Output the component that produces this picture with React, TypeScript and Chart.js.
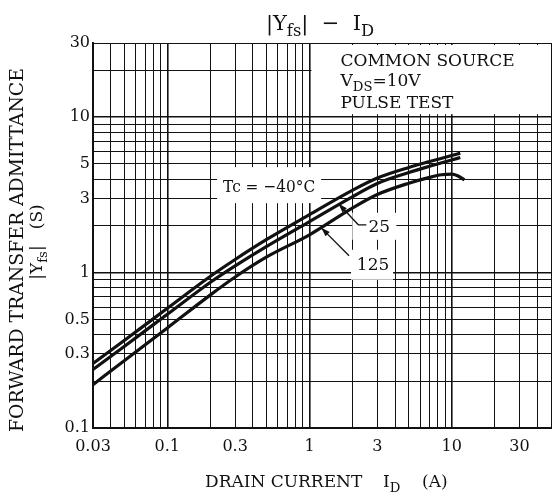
import React, { useEffect, useRef } from "react";
import { Chart, registerables } from "chart.js";

Chart.register(...registerables);

const FAMILY = '"DejaVu Serif", "Liberation Serif", serif';

// Axis grid / labels
const xGridValues = [0.03, 0.04, 0.05, 0.06, 0.07, 0.08, 0.09, 0.1, 0.2, 0.3, 0.4, 0.5, 0.6, 0.7, 0.8, 0.9, 1, 2, 3, 4, 5, 6, 7, 8, 9, 10, 20, 30, 40, 50];
const xLabelValues = [0.03, 0.1, 0.3, 1, 3, 10, 30];
const yGridValues = [0.1, 0.2, 0.3, 0.4, 0.5, 0.6, 0.7, 0.8, 0.9, 1, 2, 3, 4, 5, 6, 7, 8, 9, 10, 20, 30];
const yLabelValues = [0.1, 0.3, 0.5, 1, 3, 5, 10, 30];
const decadeValues = [0.1, 1, 10];

// Series: drain current I_D (A) vs |Yfs| (S)
const currentCold = [0.03, 0.05, 0.1, 0.2, 0.3, 0.5, 1, 2, 3, 5, 7, 10, 11.5];
const yfsMinus40 = [0.26, 0.367, 0.589, 0.944, 1.214, 1.633, 2.36, 3.38, 4.06, 4.75, 5.18, 5.66, 5.87];
const yfs25 = [0.238, 0.336, 0.539, 0.864, 1.105, 1.475, 2.13, 3.07, 3.74, 4.4, 4.83, 5.3, 5.5];
const currentHot = [0.03, 0.05, 0.1, 0.2, 0.3, 0.5, 1, 2, 3, 5, 7, 8.5, 10, 11, 12.3];
const yfs125 = [0.19, 0.272, 0.44, 0.716, 0.936, 1.26, 1.75, 2.6, 3.18, 3.76, 4.1, 4.26, 4.3, 4.2, 3.95];

// Annotation anchors in data space [I_D, |Yfs|]
const tcLabelAt = [0.52, 3.6];
const label25At = [3.1, 2.0];
const label125At = [2.8, 1.14];
const arrow25Tip = [1.6, 2.77];
const arrow125Tip = [1.21, 1.94];

const font = (size: number) => `${size}px ${FAMILY}`;

type Part = [string, boolean];

function drawRich(ctx: CanvasRenderingContext2D, parts: Part[], x: number, y: number, size: number, align: "left" | "center") {
  const subSize = size * 0.78;
  const widths = parts.map(([t, sub]) => {
    ctx.font = font(sub ? subSize : size);
    return ctx.measureText(t).width;
  });
  const total = widths.reduce((a, b) => a + b, 0);
  let cx = align === "center" ? x - total / 2 : x;
  ctx.textAlign = "left";
  ctx.textBaseline = "alphabetic";
  parts.forEach(([t, sub], i) => {
    ctx.font = font(sub ? subSize : size);
    ctx.fillText(t, cx, y + (sub ? size * 0.3 : 0));
    cx += widths[i];
  });
}

function drawArrow(ctx: CanvasRenderingContext2D, pts: number[][]) {
  ctx.beginPath();
  ctx.moveTo(pts[0][0], pts[0][1]);
  for (let i = 1; i < pts.length; i++) ctx.lineTo(pts[i][0], pts[i][1]);
  ctx.stroke();
  const [x1, y1] = pts[pts.length - 2];
  const [x2, y2] = pts[pts.length - 1];
  const a = Math.atan2(y2 - y1, x2 - x1);
  const L = 9;
  const W = 3;
  ctx.beginPath();
  ctx.moveTo(x2, y2);
  ctx.lineTo(x2 - L * Math.cos(a) + W * Math.sin(a), y2 - L * Math.sin(a) - W * Math.cos(a));
  ctx.lineTo(x2 - L * Math.cos(a) - W * Math.sin(a), y2 - L * Math.sin(a) + W * Math.cos(a));
  ctx.closePath();
  ctx.fill();
}

const near = (a: number, b: number) => Math.abs(a - b) / b < 1e-6;

const annotationPlugin = {
  id: "annotations",
  beforeDatasetsDraw(chart: any) {
    const { ctx, chartArea: ca } = chart;
    const xs = chart.scales.x;
    const ys = chart.scales.y;
    ctx.save();
    ctx.fillStyle = "#fff";
    // condition box
    const bx = xs.getPixelForValue(1) + 2;
    const by = ys.getPixelForValue(10) - 3;
    ctx.fillRect(bx, ca.top + 2, ca.right - bx, by - ca.top - 2);
    // Tc label box
    const tcx = xs.getPixelForValue(tcLabelAt[0]);
    const tcy = ys.getPixelForValue(tcLabelAt[1]);
    ctx.fillRect(tcx - 52, tcy - 19, 104, 36);
    // 25 label box
    const l25x = xs.getPixelForValue(label25At[0]);
    const l25y = ys.getPixelForValue(label25At[1]);
    ctx.fillRect(l25x - 27, l25y - 13, 44, 27);
    // 125 label box
    const l125x = xs.getPixelForValue(label125At[0]);
    const l125y = ys.getPixelForValue(label125At[1]);
    ctx.fillRect(l125x - 22, l125y - 14, 42, 30);

    ctx.fillStyle = "#111";
    // condition text
    const tx = xs.getPixelForValue(1) + 31;
    drawRich(ctx, [["COMMON SOURCE", false]], tx, ca.top + 23, 17, "left");
    drawRich(ctx, [["V", false], ["DS", true], ["=10V", false]], tx, ca.top + 43, 17, "left");
    drawRich(ctx, [["PULSE TEST", false]], tx, ca.top + 65, 17, "left");
    // Tc label
    ctx.font = font(17);
    ctx.textAlign = "center";
    ctx.textBaseline = "alphabetic";
    ctx.fillText("Tc = \u221240\u00b0C", tcx, tcy + 6, 92);
    ctx.fillText("25", l25x, l25y + 6);
    ctx.fillText("125", l125x, l125y + 6);
    ctx.restore();
  },
  afterDatasetsDraw(chart: any) {
    const { ctx } = chart;
    const xs = chart.scales.x;
    const ys = chart.scales.y;
    ctx.save();
    ctx.strokeStyle = "#111";
    ctx.fillStyle = "#111";
    ctx.lineWidth = 1.3;
    const l25x = xs.getPixelForValue(label25At[0]);
    const l25y = ys.getPixelForValue(label25At[1]);
    drawArrow(ctx, [
      [l25x - 13, l25y - 1],
      [l25x - 21, l25y - 1],
      [xs.getPixelForValue(arrow25Tip[0]), ys.getPixelForValue(arrow25Tip[1])],
    ]);
    const l125x = xs.getPixelForValue(label125At[0]);
    const l125y = ys.getPixelForValue(label125At[1]);
    drawArrow(ctx, [
      [l125x - 24, l125y - 8],
      [xs.getPixelForValue(arrow125Tip[0]), ys.getPixelForValue(arrow125Tip[1])],
    ]);
    ctx.restore();
  },
  afterDraw(chart: any) {
    const { ctx } = chart;
    ctx.save();
    ctx.fillStyle = "#111";
    // title
    drawRich(ctx, [["|Y", false], ["fs", true], ["|  \u2212  I", false], ["D", true]], 320, 30, 21, "center");
    // x title
    drawRich(ctx, [["DRAIN CURRENT", false]], 205, 487, 17, "left");
    drawRich(ctx, [["I", false], ["D", true]], 383, 487, 17, "left");
    drawRich(ctx, [["(A)", false]], 422, 487, 17, "left");
    // y title
    ctx.translate(23, 250);
    ctx.rotate(-Math.PI / 2);
    ctx.font = font(19);
    ctx.textAlign = "center";
    ctx.textBaseline = "alphabetic";
    ctx.fillText("FORWARD TRANSFER ADMITTANCE", 0, 0, 364);
    ctx.restore();
    ctx.save();
    ctx.fillStyle = "#111";
    ctx.translate(42, 242);
    ctx.rotate(-Math.PI / 2);
    drawRich(ctx, [["|Y", false], ["fs", true], ["|   (S)", false]], 0, 0, 17, "center");
    ctx.restore();
  },
};

export default function App() {
  const ref = useRef<HTMLCanvasElement | null>(null);
  useEffect(() => {
    const canvas = ref.current;
    if (!canvas) return;
    const toPts = (xs: number[], ys: number[]) => xs.map((x, i) => ({ x, y: ys[i] }));
    const lineStyle = {
      borderColor: "#111",
      borderWidth: 3.2,
      pointRadius: 0,
      fill: false,
      cubicInterpolationMode: "monotone" as const,
      tension: 0.4,
    };
    const chart = new Chart(canvas, {
      type: "line",
      data: {
        datasets: [
          { label: "Tc=-40°C", data: toPts(currentCold, yfsMinus40), ...lineStyle },
          { label: "25", data: toPts(currentCold, yfs25), ...lineStyle },
          { label: "125", data: toPts(currentHot, yfs125), ...lineStyle },
        ],
      },
      options: {
        animation: false,
        responsive: false,
        devicePixelRatio: 1,
        layout: { padding: { top: 43, right: 0, bottom: 0, left: 0 } },
        plugins: { legend: { display: false }, tooltip: { enabled: false }, title: { display: false } },
        scales: {
          x: {
            type: "logarithmic",
            min: 0.03,
            max: 50,
            afterBuildTicks: (s: any) => {
              s.ticks = xGridValues.map((v) => ({ value: v }));
            },
            afterFit: (s: any) => {
              s.height = 67;
            },
            grid: {
              color: "#111",
              lineWidth: (c: any) => (decadeValues.some((d) => near(c.tick.value, d)) ? 1.6 : 1),
              drawTicks: false,
            },
            border: { display: true, color: "#111", width: 2, z: 1 },
            ticks: {
              autoSkip: false,
              maxRotation: 0,
              padding: 9,
              color: "#111",
              font: { family: FAMILY, size: 16 },
              callback: (v: any) => (xLabelValues.some((l) => near(Number(v), l)) ? String(Number(v)) : ""),
            },
          },
          y: {
            type: "logarithmic",
            min: 0.1,
            max: 30,
            afterBuildTicks: (s: any) => {
              s.ticks = yGridValues.map((v) => ({ value: v }));
            },
            afterFit: (s: any) => {
              s.width = 93;
            },
            grid: {
              color: "#111",
              lineWidth: (c: any) => (decadeValues.some((d) => near(c.tick.value, d)) ? 1.6 : 1),
              drawTicks: false,
            },
            border: { display: true, color: "#111", width: 2, z: 1 },
            ticks: {
              autoSkip: false,
              padding: 3,
              color: "#111",
              font: { family: FAMILY, size: 16 },
              callback: (v: any) => (yLabelValues.some((l) => near(Number(v), l)) ? String(Number(v)) : ""),
            },
          },
        },
      },
      plugins: [annotationPlugin],
    });
    return () => chart.destroy();
  }, []);
  return (
    <div style={{ position: "fixed", left: 0, top: 0, width: 556, height: 495, overflow: "hidden", background: "#fff" }}>
      <canvas ref={ref} width={560} height={495} style={{ display: "block" }} />
    </div>
  );
}
